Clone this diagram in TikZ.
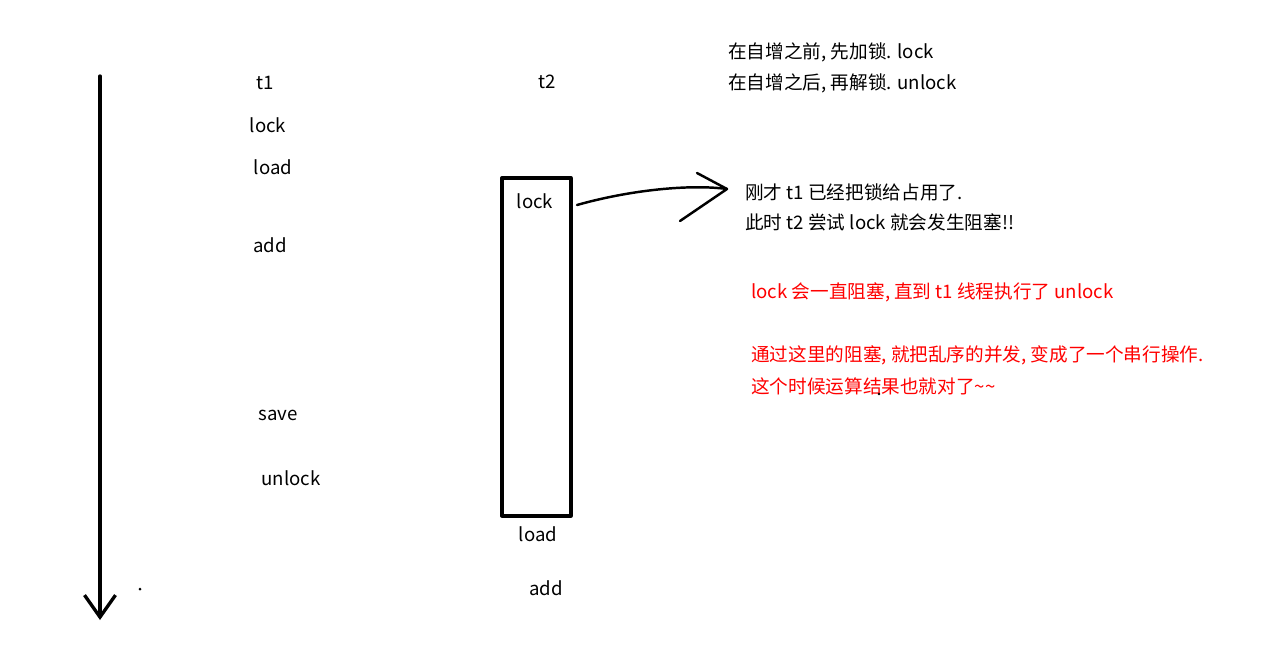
\documentclass[tikz,border=0pt]{standalone}
\usepackage{fontspec}
\setmainfont{Noto Sans CJK SC}
\usepackage{tikz}
\usetikzlibrary{arrows.meta,positioning}

\begin{document}
\begin{tikzpicture}[x=0.02cm,y=-0.02cm]
                \tikzset{every node/.style={inner sep=0pt,font=\fontsize{10.6}{13}\selectfont},
                  lbl/.style={anchor=center},
                  note/.style={anchor=west},
                  rednote/.style={anchor=west,text=red},
                  thick line/.style={line width=1.9pt,line cap=round,line join=round}}
                \useasboundingbox (0,0) rectangle (1283,651);
                % time axis
                \coordinate (top) at (100,76);
                \coordinate (bot) at (100,620);
                \draw [thick line,-{Straight Barb[length=0.44cm,width=0.62cm,line width=1.9pt]}] (top) -- (bot);
                \fill [black] (140,589) circle (1.5);
                % thread 1
                \node [lbl] (t1) at (265,83) {t1};
                \node [lbl] (lockA) at (268,125) {lock};
                \node [lbl] (loadA) at (273,167) {load};
                \node [lbl] (addA) at (270,245) {add};
                \node [lbl] (saveA) at (278,415) {save};
                \node [lbl] (unlockA) at (291,478) {unlock};
                % thread 2
                \node [lbl] (t2) at (547,82) {t2};
                \node [draw,thick line,minimum width=1.38cm,minimum height=6.76cm] (box) at (536.5,347) {};
                \node [lbl] (lockB) at (535,201) {lock};
                \node [lbl] (loadB) at (538,534) {load};
                \node [lbl] (addB) at (546,588) {add};
                % notes
                \node [note] (pre) at (728,52) {在自增之前, 先加锁. lock};
                \node [note] (post) at (728,83) {在自增之后, 再解锁. unlock};
                \node [note] (busy) at (745,192) {刚才 t1 已经把锁给占用了.};
                \node [note] (block) at (745,222) {此时 t2 尝试 lock 就会发生阻塞!!};
                \node [rednote] (wait) at (751,292) {lock 会一直阻塞, 直到 t1 线程执行了 unlock};
                \node [rednote] (serial) at (751,355) {通过这里的阻塞, 就把乱序的并发, 变成了一个串行操作.};
                \node [rednote] (right) at (751,386) {这个时候运算结果也就对了\string~\string~};
                \fill [black] (879,394) circle (1.3);
                % hand drawn arrow
                \coordinate (from) at (577,205);
                \coordinate (tip) at (727,189);
                \coordinate (armup) at (697,173);
                \coordinate (armdn) at (680,221);
                \draw [line width=1.4pt,line cap=round] (from) .. controls (630,190) and (690,184) .. (tip);
                \draw [line width=1.4pt,line cap=round,line join=round] (armup) -- (tip) -- (armdn);
\end{tikzpicture}
\end{document}
